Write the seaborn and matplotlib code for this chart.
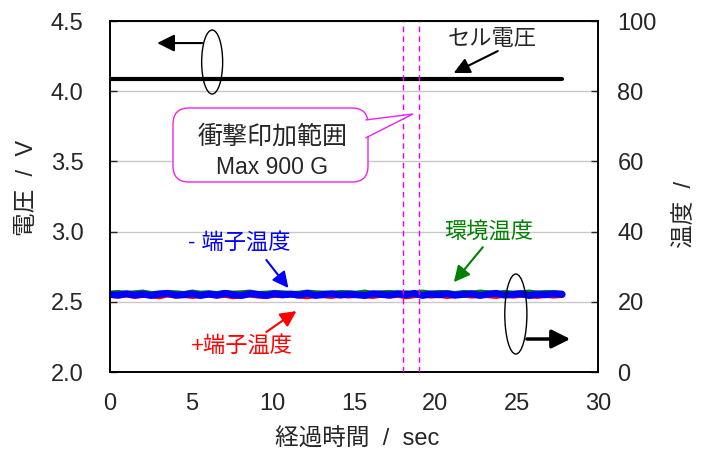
import numpy as np
import seaborn as sns
import matplotlib.pyplot as plt
from matplotlib.patches import Ellipse, FancyBboxPatch, Polygon

# セル電圧 (V)
volt_time = [0.0, 27.8]
volt = [4.09, 4.09]

# 温度 (℃) 読み取り値
temp_env = [22.6, 22.8, 22.5, 22.7, 22.9, 22.5, 22.6, 22.8, 22.7, 22.5, 22.9, 22.6,
            22.7, 22.5, 22.8, 22.6, 22.7, 22.9, 22.5, 22.6, 22.8, 22.7, 22.5, 22.6,
            22.9, 22.7, 22.6, 22.5, 22.8, 22.7, 22.6, 22.9, 22.5, 22.7, 22.8, 22.6,
            22.7, 22.5, 22.9, 22.6, 22.8, 22.7, 22.5, 22.8, 22.6, 22.9, 22.7, 22.5,
            22.8, 22.6, 22.7, 22.9, 22.6, 22.8, 22.7, 22.6]
temp_plus = [21.7, 21.5, 21.8, 21.4, 21.7, 21.6, 21.3, 21.8, 21.5, 21.7, 21.4, 21.6,
             21.8, 21.5, 21.7, 21.3, 21.6, 21.8, 21.5, 21.4, 21.7, 21.6, 21.8, 21.5,
             21.3, 21.7, 21.6, 21.4, 21.8, 21.5, 21.7, 21.6, 21.4, 21.8, 21.5, 21.7,
             21.3, 21.6, 21.8, 21.5, 21.7, 21.4, 21.6, 21.8, 21.5, 21.7, 21.6, 21.4,
             21.8, 21.5, 21.7, 21.6, 21.4, 21.7, 21.5, 21.7]
temp_minus = [22.1, 21.9, 22.3, 21.9, 22.2, 21.8, 22.2, 22.4, 21.9, 22.0, 22.3, 21.8,
              22.2, 21.9, 22.4, 22.0, 21.8, 22.3, 22.1, 21.8, 22.3, 22.0, 22.2, 21.9,
              22.4, 21.8, 22.1, 22.3, 21.9, 22.2, 22.0, 21.8, 22.3, 22.1, 21.9, 22.3,
              22.0, 22.4, 21.8, 22.2, 22.0, 22.3, 21.9, 22.1, 22.3, 21.8, 22.2, 22.4,
              21.9, 22.1, 22.3, 21.8, 22.2, 22.0, 22.3, 22.1]
t_end = 27.8

shock_lines = [18, 19]
x_ticks = [0, 5, 10, 15, 20, 25, 30]
v_ticks = [2.0, 2.5, 3.0, 3.5, 4.0, 4.5]
t_ticks = [0, 20, 40, 60, 80, 100]

sns.set_style('white')
plt.rcParams['font.family'] = ['Liberation Sans', 'Noto Sans CJK JP']

fig = plt.figure(figsize=(7.07, 4.53), dpi=100)
ax = fig.add_axes([0.1556, 0.1788, 0.6902, 0.7748])
ax2 = ax.twinx()

sns.lineplot(x=volt_time, y=volt, ax=ax, color='black', lw=3)

green = '#008000'
for vals, col, lw in [(temp_env, green, 3), (temp_plus, 'red', 3), (temp_minus, 'blue', 5)]:
    tt = np.linspace(0, t_end, len(vals))
    sns.lineplot(x=tt, y=vals, ax=ax2, color=col, lw=lw)

for xv in shock_lines:
    ax2.axvline(xv, color='#ee00ee', ls=(0, (4, 3)), lw=1, zorder=5)

ax.set_xlim(0, 30)
ax.set_ylim(2.0, 4.5)
ax2.set_ylim(0, 100)
ax.set_xticks(x_ticks)
ax.set_yticks(v_ticks)
ax.set_yticklabels([f'{v:.1f}' for v in v_ticks])
ax2.set_yticks(t_ticks)
ax.yaxis.grid(True, color='#c8c8c8', lw=1)
ax.xaxis.grid(False)

ax.tick_params(axis='both', direction='in', length=5, width=1, labelsize=17)
ax.tick_params(axis='x', pad=15)
ax.tick_params(axis='y', pad=19)
ax2.tick_params(axis='y', direction='in', length=5, width=1, labelsize=17, pad=14)
for a in (ax, ax2):
    for s in a.spines.values():
        s.set_color('black')
        s.set_linewidth(1.2)

ax.set_xlabel('経過時間  /  sec', fontsize=17)
ax.set_ylabel('電圧  /  V', fontsize=17)
ax2.set_ylabel('温度  /', fontsize=17)
ax.xaxis.set_label_coords(0.506, -0.16)
ax.yaxis.set_label_coords(-0.148, 0.524)
ax2.yaxis.set_label_coords(1.155, 0.45)

# 注記
td = ax.transData
arrow_kw = dict(arrowstyle='-|>', lw=1.5, mutation_scale=24, shrinkA=0, shrinkB=0)

ax2.text(23.5, 4.365, 'セル電圧', transform=td, ha='center', va='center', fontsize=16)
ax2.annotate('', xy=(21.13, 4.13), xytext=(23.84, 4.286), xycoords=td, textcoords=td,
             arrowprops=dict(color='black', **arrow_kw))
ax2.text(7.95, 2.92, '- 端子温度', transform=td, ha='center', va='center', fontsize=16, color='blue')
ax2.annotate('', xy=(10.97, 2.598), xytext=(9.61, 2.798), xycoords=td, textcoords=td,
             arrowprops=dict(color='blue', **arrow_kw))
ax2.text(23.3, 2.997, '環境温度', transform=td, ha='center', va='center', fontsize=16, color=green)
ax2.annotate('', xy=(21.14, 2.64), xytext=(22.92, 2.889), xycoords=td, textcoords=td,
             arrowprops=dict(color=green, **arrow_kw))
ax2.text(8.1, 2.185, '+端子温度', transform=td, ha='center', va='center', fontsize=16, color='red')
ax2.annotate('', xy=(11.46, 2.434), xytext=(9.61, 2.285), xycoords=td, textcoords=td,
             arrowprops=dict(color='red', **arrow_kw))

# 軸を示す楕円と矢印
ax2.add_patch(Ellipse((6.28, 4.208), 1.29, 0.456, transform=td, fill=False, ec='black', lw=1, zorder=6))
ax2.annotate('', xy=(2.9, 4.343), xytext=(5.67, 4.343), xycoords=td, textcoords=td,
             arrowprops=dict(arrowstyle='-|>', color='black', lw=1.5, mutation_scale=26,
                             shrinkA=0, shrinkB=0))
ax2.add_patch(Ellipse((24.95, 2.413), 1.36, 0.57, transform=td, fill=False, ec='black', lw=1, zorder=6))
ax2.annotate('', xy=(28.3, 2.235), xytext=(25.63, 2.235), xycoords=td, textcoords=td,
             arrowprops=dict(arrowstyle='-|>', color='black', lw=2.5, mutation_scale=28,
                             shrinkA=0, shrinkB=0))

# 吹き出し
inch = fig.dpi_scale_trans
ax2.add_patch(FancyBboxPatch((1.73, 2.71), 1.95, 0.74, boxstyle='round,pad=0,rounding_size=0.16',
                             transform=inch, fc='white', ec='#ee22ee', lw=1, zorder=7))
ax2.add_patch(Polygon([(3.655, 3.33), (4.13, 3.39), (3.655, 3.15)], closed=False, transform=inch,
                      fc='white', ec='#ee22ee', lw=1, zorder=7.5))
ax2.text(2.73, 3.165, '衝撃印加範囲', transform=inch, ha='center', va='center',
         fontsize=18, zorder=8)
ax2.text(2.725, 2.86, 'Max 900 G', transform=inch, ha='center', va='center',
         fontsize=16.5, zorder=8)

fig.savefig('out.png', dpi=100)
